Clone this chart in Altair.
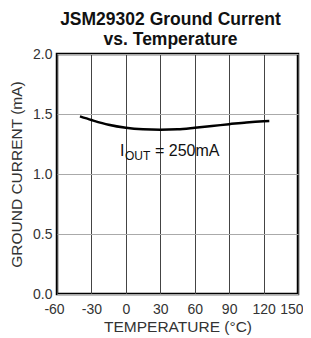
import altair as alt
import pandas as pd

temps = [-40, -30, -15, 0, 15, 30, 45, 60, 75, 90, 105, 120, 125]
current = [1.48, 1.45, 1.41, 1.385, 1.372, 1.368, 1.372, 1.385, 1.40, 1.415, 1.43, 1.44, 1.442]

x_ticks = [-60, -30, 0, 30, 60, 90, 120, 150]
y_ticks = [0.0, 0.5, 1.0, 1.5, 2.0]

ann_text = ["I", "OUT", "= 250mA"]
ann_x = [-5.1, -0.8, 25.4]
ann_y = [1.15, 1.117, 1.15]
ann_size = [16, 12, 16]

title_lines = ["JSM29302 Ground Current\u00a0\u00a0", "\u00a0\u00a0vs. Temperature"]

df = pd.DataFrame({"t": temps, "i": current})
ann = pd.DataFrame({"t": ann_x, "i": ann_y, "txt": ann_text, "s": ann_size})

FONT = "Liberation Sans"

xs = alt.Scale(domain=[-60, 150], nice=False, zero=False)
ys = alt.Scale(domain=[0, 2], nice=False)

x_axis = alt.Axis(values=x_ticks, title="TEMPERATURE (°C)", grid=True,
                  gridColor="#444", gridWidth=1, ticks=False, domain=False,
                  labelPadding=8, titlePadding=3, labelExpr="'' + datum.value",
                  labelFlush=False, labelOverlap=False,
                  labelAlign={"expr": "datum.value == 150 ? 'right' : 'center'"},
                  labelOffset={"expr": "datum.value == 150 ? 5 : (datum.value == -60 ? -3 : 0)"})
y_axis = alt.Axis(values=y_ticks, title="GROUND CURRENT (mA)", grid=True,
                  gridColor="#aaa", gridWidth=1, ticks=False, domain=False,
                  labelPadding=5, titlePadding=8, format=".1f", labelFlush=False,
                  labelOverlap=False)

line = alt.Chart(df).mark_line(color="black", strokeWidth=2.5, interpolate="monotone").encode(
    x=alt.X("t:Q", scale=xs, axis=x_axis),
    y=alt.Y("i:Q", scale=ys, axis=y_axis),
)

text = alt.Chart(ann).mark_text(align="left", baseline="alphabetic", font=FONT, color="#111").encode(
    x=alt.X("t:Q", scale=xs, axis=x_axis),
    y=alt.Y("i:Q", scale=ys, axis=y_axis),
    text="txt:N",
    size=alt.Size("s:Q", scale=None, legend=None),
)

chart = alt.layer(line, text).properties(
    width=241, height=240,
    background="white",
    autosize=alt.AutoSizeParams(type="none"),
    padding={"left": 49, "top": 46, "right": 5, "bottom": 41},
    title=alt.Title(title_lines, fontSize=17.5,
                    font=FONT, fontWeight="bold", color="#111", anchor="middle",
                    lineHeight=19.5, offset=-1, dx=-7),
).configure_view(stroke="black", strokeWidth=2.5).configure_axis(
    labelFont=FONT, titleFont=FONT, labelFontSize=14, titleFontSize=15.5,
    labelColor="#333", titleColor="#333", titleFontWeight="normal",
)

chart.save("out.html", embed_options={"renderer": "svg", "actions": False})
